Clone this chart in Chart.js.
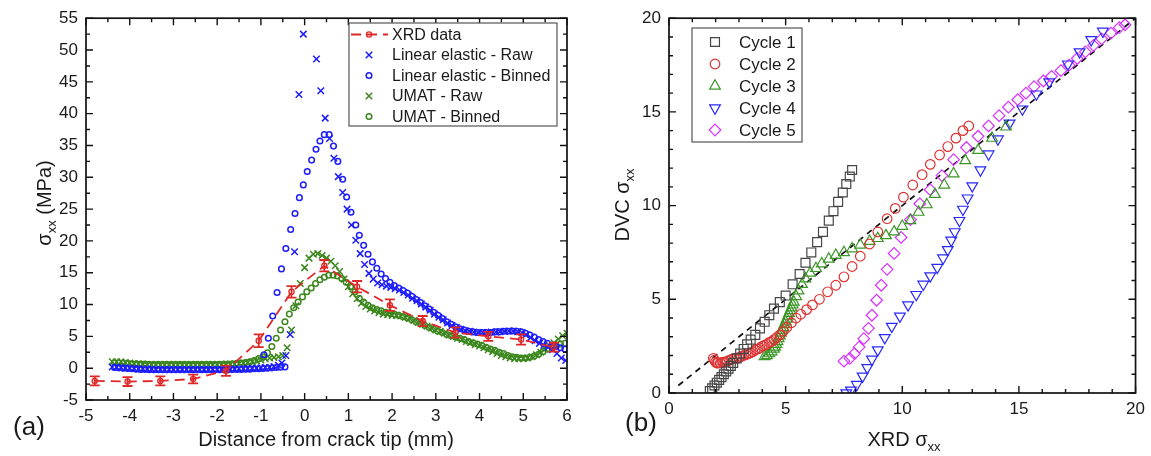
<!DOCTYPE html>
<html>
<head>
<meta charset="utf-8">
<script src="https://cdn.jsdelivr.net/npm/chart.js@4.4.1/dist/chart.umd.min.js"></script>
<style>
  html, body { margin: 0; padding: 0; background: #fff; }
  #wrap { position: relative; width: 1151px; height: 456px; }
  canvas { position: absolute; top: 0; }
  #chartA { left: 0; }
  #chartB { left: 600px; }
</style>
</head>
<body>
<div id="wrap">
  <canvas id="chartA" width="600" height="456"></canvas>
  <canvas id="chartB" width="551" height="456"></canvas>
</div>
<script>
// ---------- panel (a): sigma_xx vs distance from crack tip ----------
const aXTicks = [-5, -4, -3, -2, -1, 0, 1, 2, 3, 4, 5, 6];
const aYTicks = [-5, 0, 5, 10, 15, 20, 25, 30, 35, 40, 45, 50, 55];

const xrdX = [-4.8, -4.05, -3.3, -2.55, -1.8, -1.05, -0.3, 0.45, 1.2, 1.95, 2.7, 3.45, 4.2, 4.95, 5.7];
const xrdY = [-2.0, -2.1, -2.0, -1.7, -0.4, 4.3, 12.0, 16.1, 12.8, 9.9, 7.4, 5.6, 5.0, 4.5, 3.3];
const xrdErr = [0.7, 0.7, 0.7, 0.7, 0.8, 1.0, 0.9, 0.9, 0.9, 0.9, 0.8, 0.8, 0.7, 0.8, 0.7];

const leRawX = [
  -4.4, -4.3, -4.2, -4.1, -4.0, -3.9, -3.8, -3.7, -3.6, -3.5,
  -3.4, -3.3, -3.2, -3.1, -3.0, -2.9, -2.8, -2.7, -2.6, -2.5,
  -2.4, -2.3, -2.2, -2.1, -2.0, -1.9, -1.8, -1.7, -1.6, -1.5,
  -1.4, -1.3, -1.2, -1.1, -1.0, -0.9, -0.8, -0.7, -0.6,
  -0.52, -0.43, -0.33, -0.23, -0.13, -0.03,
  0.27, 0.37, 0.47, 0.57, 0.67, 0.77, 0.87, 0.97, 1.07, 1.17,
  1.27, 1.37, 1.47, 1.57, 1.67, 1.77, 1.87, 1.97, 2.07, 2.17,
  2.27, 2.37, 2.47, 2.57, 2.67, 2.77, 2.87, 2.97, 3.07, 3.17,
  3.27, 3.37, 3.47, 3.57, 3.67, 3.77, 3.87, 3.97, 4.07, 4.17,
  4.27, 4.37, 4.47, 4.57, 4.67, 4.77, 4.87, 4.97, 5.07, 5.17,
  5.27, 5.37, 5.47, 5.57, 5.67, 5.77, 5.87, 5.97
];
const leRawY = [
  0.2, 0.15, 0.1, 0.05, 0.0, -0.05, -0.1, -0.1, -0.15, -0.15,
  -0.2, -0.2, -0.2, -0.2, -0.2, -0.2, -0.2, -0.2, -0.2, -0.2,
  -0.2, -0.2, -0.2, -0.2, -0.2, -0.2, -0.2, -0.15, -0.15, -0.1,
  -0.1, -0.05, 0.0, 0.0, 0.05, 0.1, 0.15, 0.25, 0.45,
  0.8, 2.0, 5.3, 18.3, 43.0, 52.5,
  48.6, 43.6, 39.3, 36.1, 33.0, 30.1, 27.6, 25.0, 22.5, 20.1,
  18.0, 16.3, 14.9, 14.0, 13.4, 13.1, 12.9, 12.7, 12.5, 12.3,
  11.9, 11.5, 11.0, 10.6, 10.1, 9.6, 9.1, 8.5, 8.0, 7.6,
  7.1, 6.7, 6.4, 6.1, 5.9, 5.8, 5.7, 5.6, 5.6, 5.6,
  5.7, 5.7, 5.75, 5.8, 5.85, 5.85, 5.75, 5.6, 5.3, 4.8,
  4.3, 3.9, 3.6, 3.3, 2.9, 2.3, 1.6, 1.2
];

const leBinX = [
  -4.35, -4.25, -4.15, -4.05, -3.95, -3.85, -3.75, -3.65, -3.55, -3.45,
  -3.35, -3.25, -3.15, -3.05, -2.95, -2.85, -2.75, -2.65, -2.55, -2.45,
  -2.35, -2.25, -2.15, -2.05, -1.95, -1.85, -1.75, -1.65, -1.55, -1.45,
  -1.35, -1.25, -1.15, -1.05, -0.95, -0.85, -0.75, -0.65, -0.55, -0.45,
  -0.93, -0.83, -0.73, -0.63, -0.53, -0.43, -0.32, -0.22, -0.12, -0.03,
  0.06, 0.16, 0.26, 0.35, 0.45, 0.56, 0.66, 0.76, 0.87, 0.96,
  1.06, 1.17, 1.25, 1.35, 1.45, 1.55, 1.65, 1.75, 1.85, 1.95,
  2.05, 2.15, 2.25, 2.35, 2.45, 2.55, 2.65, 2.75, 2.85, 2.95,
  3.05, 3.15, 3.25, 3.35, 3.45, 3.55, 3.65, 3.75, 3.85, 3.95,
  4.05, 4.15, 4.25, 4.35, 4.45, 4.55, 4.65, 4.75, 4.85, 4.95,
  5.05, 5.15, 5.25, 5.35, 5.45, 5.55, 5.65, 5.75, 5.85, 5.95
];
const leBinY = [
  0.1, 0.05, 0.0, -0.05, -0.1, -0.15, -0.2, -0.2, -0.25, -0.25,
  -0.25, -0.25, -0.25, -0.25, -0.25, -0.25, -0.25, -0.25, -0.25, -0.25,
  -0.25, -0.25, -0.25, -0.25, -0.25, -0.25, -0.25, -0.2, -0.2, -0.2,
  -0.15, -0.15, -0.1, -0.1, -0.05, 0.0, 0.05, 0.1, 0.15, 0.2,
  2.1, 4.7, 8.2, 11.9, 15.6, 18.8, 21.8, 24.3, 26.8, 28.8,
  30.9, 32.7, 34.4, 35.7, 36.7, 36.7, 34.9, 32.5, 29.7, 26.9,
  24.5, 22.5, 20.9, 19.3, 17.9, 16.7, 15.7, 14.8, 14.1, 13.5,
  13.0, 12.6, 12.2, 11.8, 11.3, 10.8, 10.3, 9.8, 9.3, 8.8,
  8.3, 7.8, 7.3, 6.9, 6.5, 6.2, 6.0, 5.8, 5.7, 5.6,
  5.6, 5.6, 5.6, 5.7, 5.7, 5.8, 5.8, 5.85, 5.8, 5.7,
  5.5, 5.2, 4.9, 4.5, 4.2, 3.9, 3.6, 3.4, 3.2, 3.0
];

const umRawX = [
  -4.4, -4.3, -4.2, -4.1, -4.0, -3.9, -3.8, -3.7, -3.6, -3.5,
  -3.4, -3.3, -3.2, -3.1, -3.0, -2.9, -2.8, -2.7, -2.6, -2.5,
  -2.4, -2.3, -2.2, -2.1, -2.0, -1.9, -1.8, -1.7, -1.6, -1.5,
  -1.4, -1.3, -1.2, -1.1, -1.0, -0.9, -0.8, -0.7, -0.6, -0.5,
  -0.4, -0.3, -0.2, -0.1, 0.0, 0.1, 0.2, 0.3, 0.4, 0.5,
  0.6, 0.7, 0.8, 0.9, 1.0, 1.1, 1.2, 1.3, 1.4, 1.5,
  1.6, 1.7, 1.8, 1.9, 2.0, 2.1, 2.2, 2.3, 2.4, 2.5,
  2.6, 2.7, 2.8, 2.9, 3.0, 3.1, 3.2, 3.3, 3.4, 3.5,
  3.6, 3.7, 3.8, 3.9, 4.0, 4.1, 4.2, 4.3, 4.4, 4.5,
  4.6, 4.7, 4.8, 4.9, 5.0, 5.1, 5.2, 5.3, 5.4, 5.5,
  5.6, 5.7, 5.8, 5.9, 6.0
];
const umRawY = [
  1.0, 1.0, 1.0, 0.9, 0.8, 0.7, 0.65, 0.6, 0.55, 0.55,
  0.5, 0.5, 0.5, 0.5, 0.5, 0.5, 0.5, 0.5, 0.5, 0.5,
  0.5, 0.5, 0.5, 0.5, 0.55, 0.55, 0.55, 0.6, 0.65, 0.7,
  0.8, 0.9, 1.0, 1.15, 1.3, 1.5, 1.6, 1.7, 1.8, 2.0,
  3.2, 6.0, 9.8, 13.3, 15.8, 17.3, 17.9, 18.0, 17.7, 17.3,
  16.8, 16.1, 15.2, 14.0, 12.8, 11.7, 10.9, 10.2, 9.7, 9.3,
  9.0, 8.7, 8.5, 8.4, 8.3, 8.3, 8.2, 8.0, 7.8, 7.5,
  7.2, 6.9, 6.6, 6.3, 6.0, 5.8, 5.5, 5.2, 5.0, 4.7,
  4.5, 4.2, 4.0, 3.7, 3.5, 3.2, 2.9, 2.6, 2.3, 2.0,
  1.8, 1.6, 1.5, 1.5, 1.5, 1.6, 1.8, 2.1, 2.5, 3.0,
  3.5, 4.0, 4.6, 5.1, 5.5
];

const umBinX = [
  -4.35, -4.25, -4.15, -4.05, -3.95, -3.85, -3.75, -3.65, -3.55, -3.45,
  -3.35, -3.25, -3.15, -3.05, -2.95, -2.85, -2.75, -2.65, -2.55, -2.45,
  -2.35, -2.25, -2.15, -2.05, -1.95, -1.85, -1.75, -1.65, -1.55, -1.45,
  -1.35, -1.25, -1.15, -1.05, -0.95, -0.85, -0.75, -0.65, -0.55, -0.45,
  -0.35, -0.25, -0.15, -0.05, 0.05, 0.15, 0.25, 0.35, 0.45, 0.55,
  0.65, 0.75, 0.85, 0.95, 1.05, 1.15, 1.25, 1.35, 1.45, 1.55,
  1.65, 1.75, 1.85, 1.95, 2.05, 2.15, 2.25, 2.35, 2.45, 2.55,
  2.65, 2.75, 2.85, 2.95, 3.05, 3.15, 3.25, 3.35, 3.45, 3.55,
  3.65, 3.75, 3.85, 3.95, 4.05, 4.15, 4.25, 4.35, 4.45, 4.55,
  4.65, 4.75, 4.85, 4.95, 5.05, 5.15, 5.25, 5.35, 5.45, 5.55,
  5.65, 5.75, 5.85, 5.95
];
const umBinY = [
  0.9, 0.85, 0.8, 0.75, 0.7, 0.7, 0.65, 0.65, 0.6, 0.6,
  0.6, 0.6, 0.6, 0.6, 0.6, 0.6, 0.6, 0.6, 0.6, 0.6,
  0.6, 0.6, 0.6, 0.6, 0.6, 0.65, 0.65, 0.7, 0.75, 0.8,
  0.9, 1.0, 1.2, 1.5, 1.8, 2.4, 3.4, 4.7, 6.0, 7.3,
  8.5, 9.5, 10.4, 11.2, 12.0, 12.6, 13.3, 13.9, 14.3, 14.6,
  14.6, 14.5, 14.1, 13.5, 12.8, 12.0, 11.0, 10.4, 9.9, 9.5,
  9.2, 9.0, 8.8, 8.7, 8.5, 8.3, 8.1, 7.9, 7.6, 7.3,
  7.0, 6.7, 6.4, 6.1, 5.8, 5.6, 5.3, 5.1, 4.9, 4.7,
  4.5, 4.2, 4.0, 3.8, 3.6, 3.3, 3.0, 2.8, 2.5, 2.3,
  2.0, 1.8, 1.7, 1.6, 1.6, 1.7, 1.9, 2.2, 2.6, 3.0,
  3.3, 3.6, 3.8, 3.9
];

// ---------- panel (b): DVC vs XRD sigma_xx per cycle ----------
const bTicks = [0, 5, 10, 15, 20];

const c1X = [1.75, 1.85, 1.95, 2.05, 2.15, 2.25, 2.35, 2.45, 2.55, 2.65, 2.75, 2.9, 3.05, 3.2, 3.35, 3.5, 3.7, 3.9,
  4.1, 4.3, 4.5, 4.75, 5.0, 5.3, 5.6, 5.85, 6.1, 6.35, 6.6, 6.85, 7.05, 7.25, 7.45, 7.6, 7.75, 7.85];
const c1Y = [0.1, 0.25, 0.4, 0.55, 0.7, 0.85, 1.0, 1.15, 1.3, 1.45, 1.6, 1.85, 2.1, 2.35, 2.6, 2.85, 3.1, 3.45,
  3.8, 4.15, 4.5, 4.85, 5.2, 5.8, 6.35, 6.95, 7.5, 8.05, 8.6, 9.2, 9.7, 10.2, 10.7, 11.15, 11.55, 11.9];

const c2X = [1.9, 1.95, 2.0, 2.05, 2.1, 2.2, 2.3, 2.4, 2.5, 2.6, 2.7, 2.8, 2.9, 3.0, 3.1, 3.2, 3.3, 3.4, 3.5, 3.6,
  3.7, 3.8, 3.9, 4.0, 4.1, 4.2, 4.3, 4.4, 4.5, 4.6, 4.75, 4.9, 5.05, 5.25, 5.45, 5.65, 5.9, 6.15, 6.45, 6.8,
  7.15, 7.5, 7.85, 8.2, 8.6, 8.95, 9.35, 9.7, 10.05, 10.45, 10.85, 11.2, 11.6, 11.95, 12.3, 12.6, 12.85];
const c2Y = [1.85, 1.75, 1.65, 1.6, 1.6, 1.6, 1.65, 1.65, 1.7, 1.75, 1.8, 1.85, 1.85, 1.9, 1.95, 2.0, 2.05, 2.1, 2.15, 2.2,
  2.3, 2.35, 2.4, 2.5, 2.55, 2.6, 2.7, 2.75, 2.85, 2.95, 3.1, 3.3, 3.5, 3.75, 4.0, 4.2, 4.45, 4.7, 5.0, 5.4,
  5.75, 6.2, 6.75, 7.3, 7.95, 8.6, 9.3, 9.85, 10.45, 11.1, 11.65, 12.2, 12.7, 13.15, 13.6, 14.0, 14.25];

const c3X = [4.1, 4.2, 4.3, 4.4, 4.5, 4.55, 4.6, 4.65, 4.7, 4.75, 4.8, 4.85, 4.9, 4.95, 5.0, 5.05, 5.1, 5.15, 5.2, 5.25,
  5.3, 5.35, 5.45, 5.55, 5.7, 5.85, 6.05, 6.3, 6.55, 6.85, 7.15, 7.5, 7.85, 8.2, 8.6, 8.95, 9.3, 9.65, 10.0, 10.35,
  10.7, 11.05, 11.4, 11.8, 12.2, 12.7, 13.25, 13.85, 14.45];
const c3Y = [1.95, 2.0, 2.1, 2.2, 2.35, 2.45, 2.6, 2.75, 2.9, 3.05, 3.2, 3.35, 3.5, 3.65, 3.8, 3.95, 4.1, 4.25, 4.4, 4.55,
  4.7, 4.85, 5.15, 5.45, 5.8, 6.1, 6.4, 6.65, 6.9, 7.15, 7.35, 7.5, 7.7, 7.9, 8.1, 8.25, 8.4, 8.6, 8.9, 9.2,
  9.65, 10.05, 10.6, 11.1, 11.7, 12.4, 12.95, 13.6, 14.2];

const c4X = [7.6, 7.8, 8.05, 8.3, 8.5, 8.7, 8.95, 9.25, 9.55, 9.9, 10.25, 10.6, 10.9, 11.2, 11.5, 11.75, 11.95,
  12.1, 12.25, 12.45, 12.6, 12.8, 13.0, 13.35, 13.7, 14.1, 14.6, 15.15, 15.75, 16.3, 17.1, 17.6, 18.1, 18.6];
const c4Y = [0.0, 0.15, 0.45, 0.9, 1.35, 1.8, 2.3, 2.95, 3.55, 4.1, 4.7, 5.25, 5.8, 6.25, 6.7, 7.2, 7.65,
  8.15, 8.6, 9.2, 9.8, 10.4, 11.05, 11.9, 12.75, 13.55, 14.4, 15.15, 15.95, 16.6, 17.55, 18.2, 18.85, 19.3];

const c5X = [7.5, 7.75, 7.95, 8.15, 8.35, 8.55, 8.7, 8.9, 9.1, 9.35, 9.65, 9.95, 10.35, 10.75, 11.2, 11.7, 12.2, 12.75,
  13.25, 13.7, 14.15, 14.55, 14.95, 15.3, 15.65, 16.05, 16.4, 16.8, 17.15, 17.5, 17.85, 18.2, 18.55, 18.95, 19.3, 19.55];
const c5Y = [1.7, 1.85, 2.1, 2.45, 2.9, 3.45, 4.15, 4.95, 5.75, 6.6, 7.45, 8.3, 9.25, 10.1, 10.85, 11.6, 12.45, 13.1,
  13.7, 14.25, 14.8, 15.25, 15.65, 16.0, 16.35, 16.65, 16.9, 17.2, 17.5, 17.85, 18.2, 18.55, 18.9, 19.2, 19.5, 19.65];

const parityX = [0.4, 20];
const parityY = [0.4, 20];

// ---------- styling ----------
const FONT = "'Liberation Sans', Arial, sans-serif";
const TEXT = '#1a1a1a';
const RED = 'rgb(222, 40, 40)';
const BLUE = 'rgb(30, 30, 250)';
const GREEN = 'rgb(60, 135, 30)';
const CLEAR = 'rgba(0,0,0,0)';

Chart.defaults.font.family = FONT;
Chart.defaults.color = TEXT;

const pts = (xs, ys) => xs.map((x, i) => ({ x: x, y: ys[i] }));

function drawRich(ctx, parts, cx, cy, rot) {
  ctx.save();
  ctx.translate(cx, cy);
  if (rot) ctx.rotate(rot);
  let w = 0;
  parts.forEach(p => {
    ctx.font = p.size + 'px ' + FONT;
    p.w = ctx.measureText(p.t).width;
    w += p.w;
  });
  const base = parts[0].size * 0.36;
  let x = -w / 2;
  ctx.textAlign = 'left';
  ctx.textBaseline = 'alphabetic';
  ctx.fillStyle = TEXT;
  parts.forEach(p => {
    ctx.font = p.size + 'px ' + FONT;
    ctx.fillText(p.t, x, base + (p.dy || 0));
    x += p.w;
  });
  ctx.restore();
}

function marker(ctx, style, x, y, r, rot) {
  ctx.beginPath();
  if (style === 'circle') {
    ctx.arc(x, y, r, 0, Math.PI * 2);
  } else if (style === 'rect') {
    const s = r * Math.SQRT1_2;
    ctx.rect(x - s, y - s, 2 * s, 2 * s);
  } else if (style === 'rectRot') {
    ctx.moveTo(x, y - r); ctx.lineTo(x + r, y); ctx.lineTo(x, y + r); ctx.lineTo(x - r, y); ctx.closePath();
  } else if (style === 'triangle') {
    let a = (rot || 0) * Math.PI / 180;
    ctx.moveTo(x + Math.sin(a) * r, y - Math.cos(a) * r);
    a += 2 * Math.PI / 3;
    ctx.lineTo(x + Math.sin(a) * r, y - Math.cos(a) * r);
    a += 2 * Math.PI / 3;
    ctx.lineTo(x + Math.sin(a) * r, y - Math.cos(a) * r);
    ctx.closePath();
  } else if (style === 'crossRot') {
    const s = r * Math.SQRT1_2;
    ctx.moveTo(x - s, y - s); ctx.lineTo(x + s, y + s);
    ctx.moveTo(x - s, y + s); ctx.lineTo(x + s, y - s);
  }
  ctx.stroke();
}

// box + inward major/minor ticks on all four sides
const frameTicks = {
  id: 'frameTicks',
  afterDraw(chart, args, opts) {
    const { ctx, chartArea: a } = chart;
    const sx = chart.scales.x, sy = chart.scales.y;
    ctx.save();
    ctx.strokeStyle = '#111';
    ctx.lineWidth = 1.7;
    ctx.strokeRect(a.left, a.top, a.right - a.left, a.bottom - a.top);
    ctx.lineWidth = 1.4;
    ctx.beginPath();
    const nx = Math.round((sx.max - sx.min) / opts.xMinor);
    for (let i = 0; i <= nx; i++) {
      const v = sx.min + i * opts.xMinor;
      const px = sx.getPixelForValue(v);
      const len = Math.abs(v / opts.xMajor - Math.round(v / opts.xMajor)) < 1e-6 ? 7 : 4;
      ctx.moveTo(px, a.bottom); ctx.lineTo(px, a.bottom - len);
      ctx.moveTo(px, a.top); ctx.lineTo(px, a.top + len);
    }
    const ny = Math.round((sy.max - sy.min) / opts.yMinor);
    for (let i = 0; i <= ny; i++) {
      const v = sy.min + i * opts.yMinor;
      const py = sy.getPixelForValue(v);
      const len = Math.abs(v / opts.yMajor - Math.round(v / opts.yMajor)) < 1e-6 ? 7 : 4;
      ctx.moveTo(a.left, py); ctx.lineTo(a.left + len, py);
      ctx.moveTo(a.right, py); ctx.lineTo(a.right - len, py);
    }
    ctx.stroke();
    ctx.restore();
  }
};

const errorBars = {
  id: 'errorBars',
  afterDatasetsDraw(chart, args, opts) {
    const { ctx } = chart;
    const sx = chart.scales.x, sy = chart.scales.y;
    ctx.save();
    ctx.strokeStyle = opts.color;
    ctx.lineWidth = 1.8;
    ctx.beginPath();
    opts.xs.forEach((xv, i) => {
      const px = sx.getPixelForValue(xv);
      const top = sy.getPixelForValue(opts.ys[i] + opts.err[i]);
      const bot = sy.getPixelForValue(opts.ys[i] - opts.err[i]);
      ctx.moveTo(px, top); ctx.lineTo(px, bot);
      ctx.moveTo(px - 5, top); ctx.lineTo(px + 5, top);
      ctx.moveTo(px - 5, bot); ctx.lineTo(px + 5, bot);
    });
    ctx.stroke();
    ctx.restore();
  }
};

const boxLegend = {
  id: 'boxLegend',
  afterDraw(chart, args, opts) {
    const { ctx } = chart;
    ctx.save();
    ctx.fillStyle = '#fff';
    ctx.fillRect(opts.x, opts.y, opts.w, opts.h);
    ctx.strokeStyle = '#555';
    ctx.lineWidth = 1.2;
    ctx.strokeRect(opts.x, opts.y, opts.w, opts.h);
    let row = 0;
    chart.data.datasets.forEach(ds => {
      if (!ds.label) return;
      const y = opts.y + opts.first + row * opts.rowH;
      ctx.strokeStyle = ds.pointBorderColor;
      ctx.lineWidth = ds.pointBorderWidth;
      if (ds.showLine) {
        ctx.save();
        ctx.lineWidth = ds.borderWidth;
        ctx.setLineDash(ds.borderDash || []);
        ctx.beginPath();
        ctx.moveTo(opts.lineFrom, y); ctx.lineTo(opts.lineTo, y);
        ctx.stroke();
        ctx.restore();
      }
      marker(ctx, ds.pointStyle, opts.markX, y, ds.pointRadius, ds.pointRotation);
      ctx.fillStyle = TEXT;
      ctx.font = opts.size + 'px ' + FONT;
      ctx.textBaseline = 'middle';
      ctx.textAlign = 'left';
      ctx.fillText(ds.label, opts.textX, y + 1);
      row++;
    });
    ctx.restore();
  }
};

const labels = {
  id: 'labels',
  afterDraw(chart, args, opts) {
    opts.items.forEach(it => drawRich(chart.ctx, it.parts, it.x, it.y, it.rot));
  }
};

function axis(ticksArr, min, max, fit, isY) {
  return {
    type: 'linear',
    min: min,
    max: max,
    afterBuildTicks: s => { s.ticks = ticksArr.map(v => ({ value: v })); },
    afterFit: s => { if (isY) s.width = fit; else s.height = fit; },
    grid: { display: false, drawTicks: false },
    border: { display: false },
    ticks: { font: { size: 17 }, color: TEXT, padding: isY ? 8 : 6 }
  };
}

// ---------- chart (a) ----------
new Chart(document.getElementById('chartA'), {
  type: 'scatter',
  data: {
    datasets: [
      {
        label: 'XRD data', data: pts(xrdX, xrdY), showLine: true,
        borderColor: RED, borderWidth: 1.8, borderDash: [10, 6],
        pointStyle: 'circle', pointRadius: 2.6, pointBorderWidth: 1.3,
        pointBorderColor: RED, pointBackgroundColor: CLEAR
      },
      {
        label: 'Linear elastic - Raw', data: pts(leRawX, leRawY),
        pointStyle: 'crossRot', pointRadius: 4.6, pointBorderWidth: 1.5,
        pointBorderColor: BLUE, pointBackgroundColor: CLEAR
      },
      {
        label: 'Linear elastic - Binned', data: pts(leBinX, leBinY),
        pointStyle: 'circle', pointRadius: 2.8, pointBorderWidth: 1.5,
        pointBorderColor: BLUE, pointBackgroundColor: CLEAR
      },
      {
        label: 'UMAT - Raw', data: pts(umRawX, umRawY),
        pointStyle: 'crossRot', pointRadius: 4.6, pointBorderWidth: 1.5,
        pointBorderColor: GREEN, pointBackgroundColor: CLEAR
      },
      {
        label: 'UMAT - Binned', data: pts(umBinX, umBinY),
        pointStyle: 'circle', pointRadius: 2.8, pointBorderWidth: 1.5,
        pointBorderColor: GREEN, pointBackgroundColor: CLEAR
      }
    ]
  },
  options: {
    responsive: false,
    animation: false,
    events: [],
    layout: { padding: { left: 0, top: 13, right: 33, bottom: 0 } },
    scales: {
      x: axis(aXTicks, -5, 6, 56, false),
      y: axis(aYTicks, -5, 55, 86, true)
    },
    plugins: {
      legend: { display: false },
      tooltip: { enabled: false },
      frameTicks: { xMajor: 1, xMinor: 0.5, yMajor: 5, yMinor: 2.5 },
      errorBars: { xs: xrdX, ys: xrdY, err: xrdErr, color: RED },
      boxLegend: { x: 349, y: 23, w: 208, h: 103, first: 11.5, rowH: 20.5, markX: 369,
        lineFrom: 351, lineTo: 388, textX: 392, size: 16 },
      labels: {
        items: [
          { parts: [{ t: 'Distance from crack tip (mm)', size: 20 }], x: 326, y: 439 },
          { parts: [{ t: 'σ', size: 20 }, { t: 'xx', size: 13, dy: 5 }, { t: ' (MPa)', size: 20 }], x: 44, y: 203, rot: -Math.PI / 2 },
          { parts: [{ t: '(a)', size: 26 }], x: 29, y: 426 }
        ]
      }
    }
  },
  plugins: [errorBars, frameTicks, boxLegend, labels]
});

// ---------- chart (b) ----------
new Chart(document.getElementById('chartB'), {
  type: 'scatter',
  data: {
    datasets: [
      {
        label: 'Cycle 1', data: pts(c1X, c1Y),
        pointStyle: 'rect', pointRadius: 6.3, pointBorderWidth: 1.2,
        pointBorderColor: 'rgb(70, 70, 70)', pointBackgroundColor: CLEAR
      },
      {
        label: 'Cycle 2', data: pts(c2X, c2Y),
        pointStyle: 'circle', pointRadius: 4.8, pointBorderWidth: 1.2,
        pointBorderColor: 'rgb(222, 50, 50)', pointBackgroundColor: CLEAR
      },
      {
        label: 'Cycle 3', data: pts(c3X, c3Y),
        pointStyle: 'triangle', pointRadius: 6.2, pointBorderWidth: 1.2,
        pointBorderColor: 'rgb(60, 150, 40)', pointBackgroundColor: CLEAR
      },
      {
        label: 'Cycle 4', data: pts(c4X, c4Y),
        pointStyle: 'triangle', pointRotation: 180, pointRadius: 6.2, pointBorderWidth: 1.2,
        pointBorderColor: 'rgb(40, 40, 255)', pointBackgroundColor: CLEAR
      },
      {
        label: 'Cycle 5', data: pts(c5X, c5Y),
        pointStyle: 'rectRot', pointRadius: 5.8, pointBorderWidth: 1.2,
        pointBorderColor: 'rgb(215, 50, 255)', pointBackgroundColor: CLEAR
      },
      {
        label: '', data: pts(parityX, parityY), showLine: true,
        borderColor: '#111', borderWidth: 1.7, borderDash: [6, 5], pointRadius: 0
      }
    ]
  },
  options: {
    responsive: false,
    animation: false,
    events: [],
    layout: { padding: { left: 0, top: 13, right: 12, bottom: 0 } },
    scales: {
      x: axis(bTicks, 0, 20, 63, false),
      y: axis(bTicks, 0, 20, 69, true)
    },
    plugins: {
      legend: { display: false },
      tooltip: { enabled: false },
      frameTicks: { xMajor: 5, xMinor: 1, yMajor: 5, yMinor: 1 },
      boxLegend: { x: 92, y: 28, w: 110, h: 114, first: 14, rowH: 22, markX: 115,
        lineFrom: 100, lineTo: 130, textX: 139, size: 17 },
      labels: {
        items: [
          { parts: [{ t: 'XRD σ', size: 20 }, { t: 'xx', size: 13, dy: 5 }], x: 304, y: 439 },
          { parts: [{ t: 'DVC σ', size: 20 }, { t: 'xx', size: 13, dy: 5 }], x: 22, y: 205, rot: -Math.PI / 2 },
          { parts: [{ t: '(b)', size: 26 }], x: 41, y: 422 }
        ]
      }
    }
  },
  plugins: [frameTicks, boxLegend, labels]
});
</script>
</body>
</html>
